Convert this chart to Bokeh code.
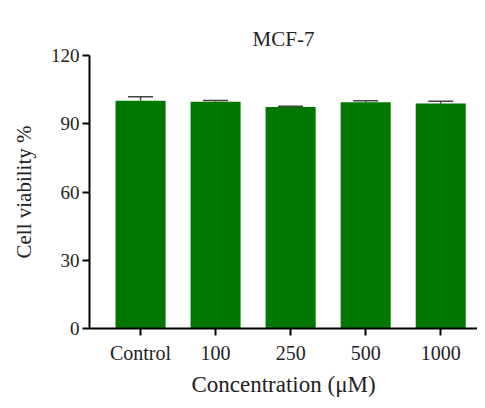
from bokeh.plotting import figure
from bokeh.models import Range1d, FixedTicker, ColumnDataSource, Whisker, TeeHead
from bokeh.embed import file_html
from bokeh.resources import INLINE

categories = ["Control", "100", "250", "500", "1000"]
viability = [100.1, 99.7, 97.4, 99.5, 98.9]
errors = [1.8, 0.5, 0.3, 0.6, 1.0]
y_ticks = [0, 30, 60, 90, 120]

xpos = list(range(len(categories)))
upper = [v + e for v, e in zip(viability, errors)]
src = ColumnDataSource(dict(x=xpos, top=viability, upper=upper, base=viability))

FONT = "Liberation Serif"

p = figure(width=477, height=400, output_backend="svg", toolbar_location=None,
           x_range=Range1d(-0.68, 4.49), y_range=Range1d(0, 120),
           title="MCF-7", min_border_left=89, min_border_right=0,
           min_border_top=55, min_border_bottom=72)
p.title.align = "center"
p.title.text_font = FONT
p.title.text_font_size = "21px"
p.title.text_font_style = "normal"
p.title.text_color = "#222222"
p.outline_line_color = None
p.grid.visible = False
p.background_fill_color = "white"

p.vbar(x="x", top="top", bottom=0, width=0.667, source=src,
       fill_color="#007800", line_color=None)
w = Whisker(source=src, base="x", lower="base", upper="upper",
            line_color="#444444", line_width=1.5,
            upper_head=TeeHead(size=25, line_color="#444444", line_width=1.5),
            lower_head=None, level="underlay")
p.add_layout(w)

p.xaxis.ticker = FixedTicker(ticks=xpos)
p.xaxis.major_label_overrides = {i: c for i, c in enumerate(categories)}
p.yaxis.ticker = FixedTicker(ticks=y_ticks)
for ax in (p.xaxis, p.yaxis):
    ax.axis_line_width = 2
    ax.axis_line_color = "black"
    ax.major_tick_line_width = 2
    ax.major_tick_line_color = "black"
    ax.major_tick_out = 7
    ax.major_tick_in = 0
    ax.minor_tick_line_color = None
    ax.major_label_text_font = FONT
    ax.major_label_text_color = "#222222"
    ax.axis_label_text_font = FONT
    ax.axis_label_text_font_style = "normal"
    ax.axis_label_text_color = "#222222"
p.xaxis.major_label_text_font_size = "20px"
p.yaxis.major_label_text_font_size = "19px"
p.xaxis.axis_label_text_font_size = "23px"
p.yaxis.axis_label_text_font_size = "21px"
p.xaxis.axis_label = "Concentration (μM)"
p.yaxis.axis_label = "Cell viability %"
p.xaxis.major_label_standoff = 6
p.xaxis.axis_label_standoff = 5
p.yaxis.major_label_standoff = 3
p.yaxis.axis_label_standoff = 12

open("out.html", "w").write(file_html(p, INLINE))
